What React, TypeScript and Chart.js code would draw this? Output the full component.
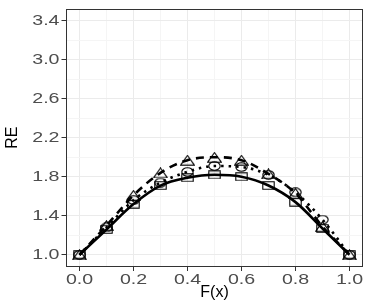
import React, { useEffect, useRef } from 'react';
import { Chart, registerables } from 'chart.js';

Chart.register(...registerables);

const xValues = [0, 0.1, 0.2, 0.3, 0.4, 0.5, 0.6, 0.7, 0.8, 0.9, 1.0];
const squareSeries = [1.0, 1.26, 1.52, 1.71, 1.79, 1.82, 1.8, 1.71, 1.54, 1.27, 1.0];
const circleSeries = [1.0, 1.28, 1.56, 1.74, 1.85, 1.91, 1.9, 1.82, 1.64, 1.36, 1.0];
const triangleSeries = [1.0, 1.3, 1.61, 1.84, 1.97, 2.0, 1.97, 1.83, 1.63, 1.29, 1.0];
const xTickValues = [0, 0.1, 0.2, 0.3, 0.4, 0.5, 0.6, 0.7, 0.8, 0.9, 1.0];
const yTickValues = [1.0, 1.2, 1.4, 1.6, 1.8, 2.0, 2.2, 2.4, 2.6, 2.8, 3.0, 3.2, 3.4];
const xTitle = 'F(x)';
const yTitle = 'RE';

const LABEL_STRETCH = 1.4;

function makeMarker(kind: string): HTMLCanvasElement {
  const c = document.createElement('canvas');
  let w = 13, h = 9;
  if (kind === 'circle') { w = 13; h = 10; }
  if (kind === 'triangle') { w = 15; h = 11; }
  c.width = w; c.height = h;
  const ctx = c.getContext('2d')!;
  ctx.strokeStyle = '#000';
  ctx.lineWidth = 1.1;
  ctx.beginPath();
  if (kind === 'square') {
    ctx.rect(0.8, 0.8, w - 1.6, h - 1.6);
  } else if (kind === 'circle') {
    ctx.ellipse(w / 2, h / 2, w / 2 - 0.8, h / 2 - 0.8, 0, 0, Math.PI * 2);
  } else {
    ctx.moveTo(w / 2, 0.8);
    ctx.lineTo(w - 0.8, h - 0.8);
    ctx.lineTo(0.8, h - 0.8);
    ctx.closePath();
  }
  ctx.stroke();
  return c;
}

const isMajorX = (v: number) => Math.round(v * 10) % 2 === 0;
const isMajorY = (v: number) => Math.round((v - 1) * 10) % 4 === 0;

function stretchedDrawLabels(this: any, chartArea: any) {
  const ctx = this.ctx;
  const items = this.getLabelItems(chartArea);
  for (const item of items) {
    const o = item.options;
    const label = Array.isArray(item.label) ? item.label.join(' ') : String(item.label);
    if (!label) continue;
    ctx.save();
    ctx.translate(o.translation[0], o.translation[1]);
    if (o.rotation) ctx.rotate(o.rotation);
    ctx.scale(LABEL_STRETCH, 1);
    ctx.font = item.font.string;
    ctx.fillStyle = o.color;
    ctx.textAlign = o.textAlign;
    ctx.textBaseline = o.textBaseline;
    ctx.fillText(label, 0, item.textOffset);
    ctx.restore();
  }
}

export default function App() {
  const ref = useRef<HTMLCanvasElement>(null);
  useEffect(() => {
    if (!ref.current) return;
    const sq = makeMarker('square');
    const ci = makeMarker('circle');
    const tr = makeMarker('triangle');
    const toPts = (ys: number[]) => xValues.map((x, i) => ({ x, y: ys[i] }));

    const panelPlugin = {
      id: 'panel',
      beforeDraw(chart: any) {
        for (const id of Object.keys(chart.scales)) {
          const s = chart.scales[id];
          if (!s.__stretched) {
            s.drawLabels = stretchedDrawLabels;
            s.__stretched = true;
          }
        }
      },
      afterDraw(chart: any) {
        const ctx = chart.ctx;
        const a = chart.chartArea;
        ctx.save();
        ctx.strokeStyle = '#333333';
        ctx.lineWidth = 1;
        ctx.strokeRect(Math.round(a.left) + 0.5, Math.round(a.top) + 0.5, Math.round(a.right - a.left) - 1, Math.round(a.bottom - a.top) - 1);
        ctx.restore();
      },
    };

    const tickFont = { family: '"Liberation Sans", Arial, sans-serif', size: 14, lineHeight: 1 };
    const titleFont = { family: '"Liberation Sans", Arial, sans-serif', size: 16 };

    const chart = new Chart(ref.current, {
      type: 'line',
      data: {
        datasets: [
          {
            label: 'square',
            data: toPts(squareSeries),
            borderColor: '#000',
            borderWidth: 2.6,
            pointStyle: sq as any,
            pointRadius: 5,
            cubicInterpolationMode: 'monotone',
            fill: false,
          },
          {
            label: 'circle',
            data: toPts(circleSeries),
            borderColor: '#000',
            borderWidth: 2.6,
            borderDash: [2.5, 5],
            pointStyle: ci as any,
            pointRadius: 5,
            cubicInterpolationMode: 'monotone',
            fill: false,
          },
          {
            label: 'triangle',
            data: toPts(triangleSeries),
            borderColor: '#000',
            borderWidth: 2.6,
            borderDash: [8, 6],
            pointStyle: tr as any,
            pointRadius: 5,
            cubicInterpolationMode: 'monotone',
            fill: false,
          },
        ],
      },
      options: {
        responsive: false,
        animation: false,
        devicePixelRatio: 1,
        layout: { padding: { top: 4, right: 8, left: 0, bottom: 0 } },
        plugins: { legend: { display: false }, tooltip: { enabled: false } },
        scales: {
          x: {
            type: 'linear',
            min: -0.05,
            max: 1.05,
            afterBuildTicks: (s: any) => { s.ticks = xTickValues.map((v) => ({ value: v })); },
            afterFit: (s: any) => { s.height = 38.5; },
            border: { display: false },
            grid: {
              color: (c: any) => (c.tick && isMajorX(c.tick.value) ? '#EBEBEB' : '#F5F5F5'),
              tickColor: (c: any) => (c.tick && isMajorX(c.tick.value) ? '#333333' : 'rgba(0,0,0,0)'),
              lineWidth: 1,
              tickLength: 4.5,
            },
            ticks: {
              autoSkip: false,
              maxRotation: 0,
              padding: 2,
              color: '#4D4D4D',
              font: tickFont,
              callback: (v: any) => (isMajorX(Number(v)) ? Number(v).toFixed(1) : ''),
            },
            title: {
              display: true,
              text: xTitle,
              color: '#000',
              font: titleFont,
              padding: { top: 0, bottom: 2.4 },
            },
          },
          y: {
            type: 'linear',
            min: 0.88,
            max: 3.52,
            afterBuildTicks: (s: any) => { s.ticks = yTickValues.map((v) => ({ value: v })); },
            afterFit: (s: any) => { s.width = 66; },
            border: { display: false },
            grid: {
              color: (c: any) => (c.tick && isMajorY(c.tick.value) ? '#EBEBEB' : '#F5F5F5'),
              tickColor: (c: any) => (c.tick && isMajorY(c.tick.value) ? '#333333' : 'rgba(0,0,0,0)'),
              lineWidth: 1,
              tickLength: 4.5,
            },
            ticks: {
              autoSkip: false,
              padding: 2,
              color: '#4D4D4D',
              font: tickFont,
              callback: (v: any) => (isMajorY(Number(v)) ? Number(v).toFixed(1) : ''),
            },
            title: {
              display: true,
              text: yTitle,
              color: '#000',
              font: titleFont,
              padding: { top: 3.4, bottom: 0 },
            },
          },
        },
      },
      plugins: [panelPlugin],
    } as any);
    return () => chart.destroy();
  }, []);

  return (
    <div style={{ position: 'absolute', left: 0, top: 0, width: 371, height: 305, background: '#fff' }}>
      <canvas ref={ref} width={371} height={305} style={{ display: 'block' }} />
    </div>
  );
}
